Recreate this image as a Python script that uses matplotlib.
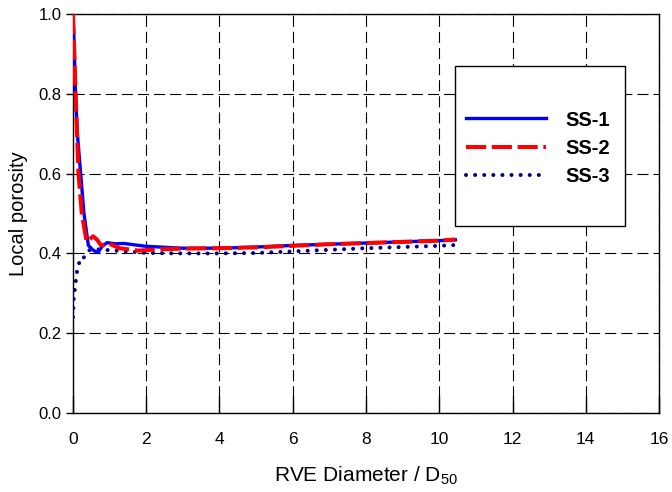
import matplotlib
matplotlib.use("Agg")
import matplotlib.pyplot as plt
from matplotlib.patches import Rectangle

plt.rcParams['font.family'] = ['Liberation Sans', 'DejaVu Sans']

# SS-1 (solid blue)
x_ss1 = [0.0, 0.03, 0.07, 0.12, 0.21, 0.3, 0.42, 0.55, 0.68, 0.8, 0.93, 1.15, 1.38, 1.97, 2.56, 3.0, 4.0, 5.0, 6.0, 7.0, 8.0, 9.0, 10.0, 10.44]
y_ss1 = [1.0, 0.93, 0.8, 0.7, 0.6, 0.5, 0.42, 0.408, 0.402, 0.418, 0.427, 0.424, 0.425, 0.418, 0.415, 0.413, 0.413, 0.416, 0.42, 0.423, 0.426, 0.429, 0.432, 0.434]

# SS-2 (dashed red)
x_ss2 = [0.0, 0.03, 0.07, 0.15, 0.24, 0.37, 0.45, 0.55, 0.65, 0.77, 0.96, 1.28, 1.78, 2.3, 3.0, 4.0, 5.0, 6.0, 7.0, 8.0, 9.0, 10.0, 10.44]
y_ss2 = [1.0, 0.92, 0.8, 0.6, 0.5, 0.43, 0.435, 0.443, 0.435, 0.42, 0.425, 0.413, 0.407, 0.41, 0.412, 0.413, 0.415, 0.419, 0.423, 0.426, 0.429, 0.432, 0.435]

# SS-3 (dotted navy)
x_ss3 = [0.0, 0.02, 0.05, 0.1, 0.15, 0.21, 0.3, 0.45, 0.7, 1.0, 1.5, 2.0, 3.0, 4.0, 5.0, 6.0, 7.0, 8.0, 9.0, 10.0, 10.44]
y_ss3 = [0.24, 0.288, 0.31, 0.35, 0.37, 0.39, 0.39, 0.408, 0.41, 0.408, 0.405, 0.401, 0.4, 0.4, 0.401, 0.405, 0.409, 0.413, 0.416, 0.419, 0.421]

x_ticks = [0, 2, 4, 6, 8, 10, 12, 14, 16]
y_ticks = [0.0, 0.2, 0.4, 0.6, 0.8, 1.0]

fig = plt.figure(figsize=(6.72, 4.92), dpi=100)
ax = fig.add_axes([0.1086, 0.1606, 0.8721, 0.8109])

ax.plot(x_ss1, y_ss1, color='#0000ff', lw=2.4, label='SS-1', zorder=4)
ax.plot(x_ss2, y_ss2, color='#ff0000', lw=2.9, linestyle=(0, (5.0, 1.4)), label='SS-2', zorder=5)
ax.plot(x_ss3, y_ss3, color='#000080', lw=2.9, linestyle=(0, (0.01, 2.25)),
        dash_capstyle='round', label='SS-3', zorder=3)

ax.set_xlim(0, 16)
ax.set_ylim(0, 1.0)
ax.set_xticks(x_ticks)
ax.set_yticks(y_ticks)
ax.set_xticklabels([str(v) for v in x_ticks])
ax.set_yticklabels(['%.1f' % v for v in y_ticks])
ax.tick_params(axis='x', direction='in', length=12, width=1, labelsize=12.5, pad=14)
ax.tick_params(axis='y', direction='out', length=5, width=1, labelsize=12, pad=3)
for s in ax.spines.values():
    s.set_linewidth(1.0)

ax.grid(True, color='black', lw=0.8, linestyle=(0, (10, 4.5)))
ax.set_axisbelow(True)

ax.set_xlabel(r'RVE Diameter / D$_{\mathregular{50}}$', fontsize=15, labelpad=12)
ax.set_ylabel('Local porosity', fontsize=14.5, labelpad=8)

# legend box
box = Rectangle((0.652, 0.469), 0.29, 0.401, transform=ax.transAxes,
                facecolor='white', edgecolor='black', lw=1.0, zorder=6)
ax.add_patch(box)
leg = ax.legend(loc='center left', bbox_to_anchor=(0.67, 0.664), frameon=False,
                borderpad=0, borderaxespad=0, handlelength=4.0, handletextpad=0.95,
                labelspacing=0.45, prop={'weight': 'bold', 'size': 14.5})
leg.set_zorder(7)

fig.savefig('out.png', dpi=100)
